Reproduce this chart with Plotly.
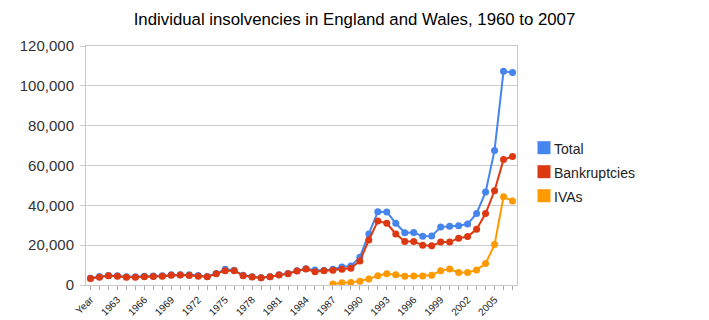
import plotly.graph_objects as go

years = ["Year", "1961", "1962", "1963", "1964", "1965", "1966", "1967", "1968", "1969",
         "1970", "1971", "1972", "1973", "1974", "1975", "1976", "1977", "1978", "1979",
         "1980", "1981", "1982", "1983", "1984", "1985", "1986", "1987", "1988", "1989",
         "1990", "1991", "1992", "1993", "1994", "1995", "1996", "1997", "1998", "1999",
         "2000", "2001", "2002", "2003", "2004", "2005", "2006", "2007"]

total = [3350, 4300, 4750, 4700, 4150, 4100, 4400, 4550, 4650, 5100,
         5200, 5200, 4750, 4250, 5750, 7850, 7400, 4850, 4150, 3700,
         4200, 5150, 5800, 7150, 8200, 7500, 7250, 7950, 9000, 9600,
         13990, 25640, 36790, 36700, 31020, 26270, 26320, 24440, 24550, 29150,
         29530, 29780, 30590, 35900, 46650, 67580, 107290, 106650]

bankruptcies = [3250, 3900, 4600, 4450, 3900, 3850, 4150, 4250, 4350, 4850,
                5000, 4800, 4450, 4100, 5600, 7200, 7200, 4700, 4000, 3600,
                4100, 5050, 5700, 7050, 8050, 6700, 7150, 7450, 7850, 8350,
                12050, 22600, 32100, 31000, 25600, 21900, 21800, 19900, 19650, 21600,
                21550, 23500, 24300, 28000, 35900, 47300, 62950, 64500]

ivas = [None] * 27 + [450, 1150, 1200,
                      1930, 3000, 4690, 5680, 5100, 4380, 4470, 4550, 4900, 7200,
                      7980, 6300, 6300, 7580, 10750, 20290, 44330, 42170]

labeled = ["Year", "1963", "1966", "1969", "1972", "1975", "1978", "1981", "1984",
           "1987", "1990", "1993", "1996", "1999", "2002", "2005"]

series_names = ["Total", "Bankruptcies", "IVAs"]
series_vals = [total, bankruptcies, ivas]
series_colors = ["#4684ee", "#dc3912", "#ff9900"]

W, H = 709, 320
L, R, T, B = 86, 192, 46, 35
PW, PH = W - L - R, H - T - B


def px_x(px):
    return (px - L) / PW


def px_y(py):
    return (H - B - py) / PH


fig = go.Figure()
for name, vals, col in zip(series_names, series_vals, series_colors):
    fig.add_trace(go.Scatter(
        x=years, y=vals, mode="lines+markers", name=name,
        line=dict(color=col, width=2), marker=dict(color=col, size=7),
        showlegend=False, connectgaps=False, hoverinfo="skip"))

# legend (squares + labels), matching the reference layout
shapes = []
annotations = []
for i, (name, col) in enumerate(zip(series_names, series_colors)):
    cy = 147.7 + 24 * i
    shapes.append(dict(type="rect", xref="paper", yref="paper",
                       x0=px_x(537.5), x1=px_x(550.5),
                       y0=px_y(cy + 6.5), y1=px_y(cy - 6.5),
                       fillcolor=col, line=dict(width=0)))
    annotations.append(dict(text=name, xref="paper", yref="paper",
                            x=px_x(552), y=px_y(cy + 1), xanchor="left",
                            yanchor="middle", showarrow=False,
                            font=dict(size=14, color="#222222")))

fig.update_layout(
    width=W, height=H,
    margin=dict(l=L, r=R, t=T, b=B),
    paper_bgcolor="white", plot_bgcolor="white",
    font=dict(family="Liberation Sans, Arial, sans-serif", color="#222222"),
    title=dict(text="Individual insolvencies in England and Wales, 1960 to 2007",
               x=0.5, xref="container", xanchor="center",
               y=1 - 19.5 / H, yref="container", yanchor="middle",
               font=dict(size=16.8, color="#000000")),
    showlegend=False,
    shapes=shapes,
    annotations=annotations,
    hovermode=False,
)
fig.update_xaxes(
    type="category", categoryorder="array", categoryarray=years,
    range=[-0.5, len(years) - 0.5], automargin=False,
    tickmode="array", tickvals=years,
    ticktext=[y if y in labeled else "" for y in years],
    tickangle=-45, tickfont=dict(size=10, color="#222222"),
    ticks="outside", ticklen=4, tickcolor="#aaaaaa",
    showgrid=False, showline=True, linecolor="#c8c8c8", mirror=True, zeroline=False)
fig.update_yaxes(
    range=[0, 120000], dtick=20000, tickformat=",d", automargin=False,
    tickfont=dict(size=15, color="#333333"), ticklabelstandoff=3,
    ticks="outside", ticklen=5, tickcolor="#cccccc",
    showgrid=True, gridcolor="#cccccc", gridwidth=1,
    showline=True, linecolor="#c8c8c8", mirror=True, zeroline=False)

fig.write_html("out.html", config={"displayModeBar": False})
